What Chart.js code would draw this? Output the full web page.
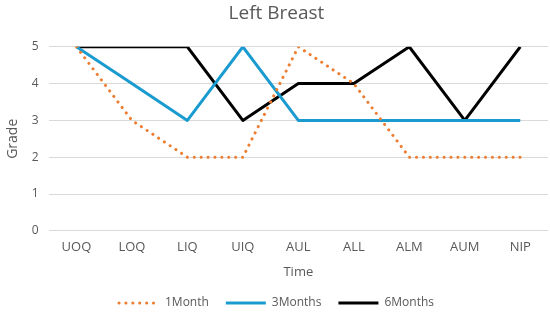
<!DOCTYPE html>
<html>
<head>
<meta charset="utf-8">
<script src="https://cdn.jsdelivr.net/npm/chart.js@4/dist/chart.umd.min.js"></script>
<style>
  html, body { margin: 0; padding: 0; background: #fff; }
  #wrap { width: 550px; height: 324px; }
</style>
</head>
<body>
<div id="wrap"><canvas id="chart" width="550" height="324"></canvas></div>
<script>
'use strict';
var categories = ['UOQ', 'LOQ', 'LIQ', 'UIQ', 'AUL', 'ALL', 'ALM', 'AUM', 'NIP'];
var month1 = [5, 3, 2, 2, 5, 4, 2, 2, 2];
var months3 = [5, 4, 3, 5, 3, 3, 3, 3, 3];
var months6 = [5, 5, 5, 3, 4, 4, 5, 3, 5];
var yTicks = [0, 1, 2, 3, 4, 5];

var FONT = "'Open Sans', 'Noto Sans', sans-serif";
var GREY = '#595959';

function series(label, data, color, dash, cap) {
  return {
    label: label,
    data: data,
    borderColor: color,
    backgroundColor: color,
    borderWidth: 3,
    borderDash: dash,
    borderCapStyle: cap,
    borderJoinStyle: 'round',
    pointRadius: 0,
    pointHoverRadius: 0,
    pointStyle: 'line',
    tension: 0,
    fill: false
  };
}

new Chart(document.getElementById('chart'), {
  type: 'line',
  data: {
    labels: categories,
    datasets: [
      series('1Month', month1, '#ED7D31', [0.1, 6.8], 'round'),
      series('3Months', months3, '#1A9BD0', [], 'butt'),
      series('6Months', months6, '#000000', [], 'butt')
    ]
  },
  options: {
    responsive: false,
    animation: false,
    layout: { padding: { left: 5, right: 2, top: 2, bottom: 5 } },
    plugins: {
      title: {
        display: true,
        text: 'Left Breast',
        color: GREY,
        font: { family: FONT, size: 19, weight: 'normal' },
        padding: { top: 0, bottom: 22 }
      },
      legend: {
        position: 'bottom',
        labels: {
          usePointStyle: true,
          pointStyleWidth: 40,
          boxHeight: 8,
          color: GREY,
          font: { family: FONT, size: 12 },
          padding: 17,
          generateLabels: function(chart) {
            var items = Chart.defaults.plugins.legend.labels.generateLabels(chart);
            items.forEach(function(it) {
              var ds = chart.data.datasets[it.datasetIndex];
              it.lineDash = ds.borderDash;
              it.lineCap = ds.borderCapStyle;
              it.lineWidth = ds.borderWidth;
              it.strokeStyle = ds.borderColor;
            });
            return items;
          }
        }
      },
      tooltip: { enabled: false }
    },
    scales: {
      x: {
        offset: true,
        grid: { display: false, drawTicks: false },
        border: { display: false },
        ticks: { color: GREY, font: { family: FONT, size: 13 }, padding: 9 },
        title: {
          display: true,
          text: 'Time',
          color: GREY,
          font: { family: FONT, size: 13 },
          padding: { top: 0, bottom: 0 }
        }
      },
      y: {
        min: 0,
        max: 5,
        afterBuildTicks: function(axis) {
          axis.ticks = yTicks.map(function(v) { return { value: v }; });
        },
        grid: { color: '#D9D9D9', lineWidth: 1, drawTicks: false },
        border: { display: false },
        ticks: { color: GREY, font: { family: FONT, size: 12 }, padding: 10 },
        title: {
          display: true,
          text: 'Grade',
          color: GREY,
          font: { family: FONT, size: 14 },
          padding: { top: 0, bottom: 0 }
        }
      }
    }
  }
});
</script>
</body>
</html>
